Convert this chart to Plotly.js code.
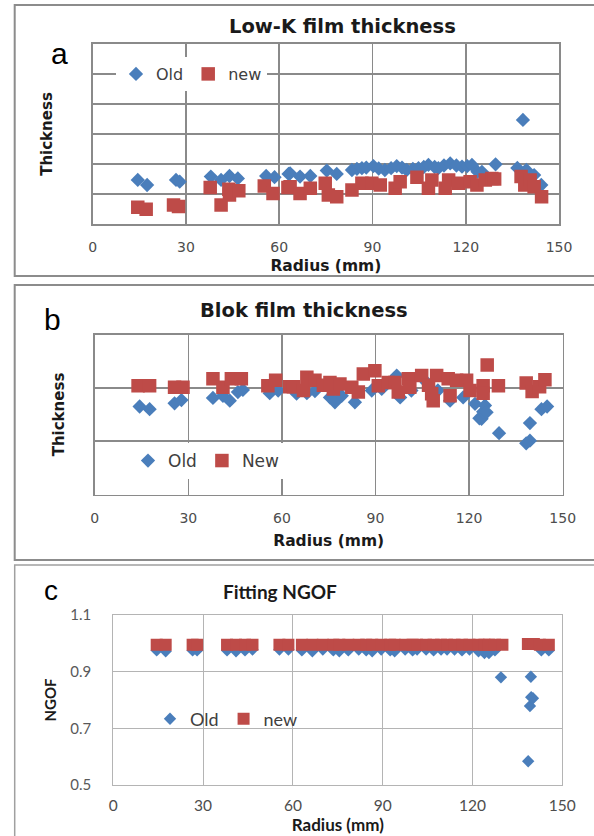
<!DOCTYPE html>
<html>
<head>
<meta charset="utf-8">
<script src="https://cdn.plot.ly/plotly-3.0.1.min.js"></script>
<style>html,body{margin:0;padding:0;background:#fff;}#chart{width:594px;height:836px;}</style>
</head>
<body>
<div id="chart"></div>
<script>
// ---------- Panel a: Low-K film thickness ----------
var aOldX = [14.5,17.5,26.8,28,38,41.3,44,46.7,55.8,58.5,63,63.5,66.7,70,75.3,78.5,83.4,85,86.6,88,90.3,92,94,96,97.8,99.5,101,103,104.8,106.5,108,110,111.2,113,115,117,118.8,120.5,122,123.8,125.2,129.6,136.6,138.4,139.5,142,144.3];
var aOldY = [1.47,1.3,1.47,1.41,1.58,1.47,1.6,1.52,1.6,1.56,1.67,1.69,1.58,1.6,1.78,1.67,1.8,1.84,1.86,1.88,1.93,1.85,1.8,1.86,1.93,1.88,1.8,1.84,1.86,1.9,1.97,1.9,1.86,1.95,2.02,1.95,1.91,1.93,1.97,1.74,1.74,1.99,1.87,3.47,1.8,1.63,1.3];
var aNewX = [14.5,17.2,26,27.6,37.8,41.3,43.8,44,47,55.2,58,62.8,63.5,66.7,70,74.8,75.8,78.5,83.4,86.6,89.8,92.5,97.3,98.9,104.3,108,109.1,113.4,114.5,117.7,121.4,123.6,126.3,128.4,129.3,137.8,139,140.7,142,144.4];
var aNewY = [0.56,0.49,0.63,0.58,1.22,0.63,1.16,0.97,1.11,1.27,1.02,1.22,1.24,1.02,1.19,1.36,0.97,0.91,1.13,1.36,1.36,1.3,1.19,1.41,1.56,1.19,1.47,1.19,1.47,1.36,1.41,1.3,1.47,1.52,1.5,1.58,1.3,1.47,1.24,0.91];

// ---------- Panel b: Blok film thickness ----------
var bOldX = [14.4,17.6,25.6,27.8,37.9,41.1,43.3,45.9,47.5,56.1,58.8,64.7,68,70.6,75.4,77,79.2,83.4,88.8,92,96.8,97.9,101.5,106.4,110,113.9,118.1,121.9,123.3,124,124.5,125.1,125.6,129.6,139.5,139.5,138.3,143.2,145];
var bOldY = [1.65,1.6,1.71,1.77,1.81,1.85,1.76,1.92,1.96,1.9,1.95,1.89,1.9,1.94,1.82,1.73,1.85,1.73,1.95,1.98,2.23,1.82,1.95,2.1,1.95,1.76,1.82,1.7,1.43,1.42,1.55,1.67,1.54,1.15,1.34,1.01,0.96,1.6,1.65];
var bNewX = [13.9,17.6,25.6,28.3,37.9,41.1,43.8,47,55.5,58,62.5,63.7,66.9,68,70.6,73.3,75.4,76.5,78.6,82.4,84.5,86.1,89.8,90.9,94.1,96.2,97.3,100.5,101,104.8,107,108,108.5,109.6,113.3,113.9,116,119.2,120.3,124.5,124.5,125.8,129.4,138.3,140.2,142.6,144.3];
var bNewY = [2.04,2.04,2.01,2.01,2.17,2.01,2.17,2.17,2.04,2.14,2.02,2.02,1.95,2.2,2.14,2.05,2.1,1.98,2.07,2.01,1.92,2.26,2.32,2.04,2.1,2.1,1.92,2.17,2.01,2.23,2.05,1.89,1.76,2.23,2.17,1.85,2.14,2.14,1.95,2.04,1.9,2.43,2.04,2.09,1.93,2.02,2.15];

// ---------- Panel c: Fitting NGOF ----------
var cOldX = [14.5,17.5,26.5,28,38,41,44,46.5,55.5,58.5,63,66.5,70,73.5,75.5,78.5,82,84.5,86.5,89.5,92.5,94,97.5,100,101.5,104.5,107,109.5,111.5,114,116.5,119,122,124,125.5,127.5,129.5,138.6,139.2,139.6,139.5,140.2,143,145.5];
var cOldY = [0.975,0.972,0.975,0.975,0.975,0.972,0.975,0.978,0.978,0.978,0.975,0.972,0.978,0.975,0.972,0.975,0.978,0.975,0.972,0.978,0.975,0.972,0.978,0.975,0.978,0.978,0.975,0.978,0.978,0.978,0.975,0.978,0.972,0.966,0.966,0.975,0.88,0.584,0.779,0.81,0.882,0.806,0.975,0.975];
var cNewX = [14.5,17.5,26.5,28,38,41,44,46.5,55.5,58.5,63,66.5,70,73.5,75.5,78.5,82,84.5,86.5,89.5,92.5,94,97.5,100,101.5,104.5,107,109.5,111.5,114,116.5,119,122,124,125.5,127.5,130,138.5,139.5,140.5,142.5,145.5];
var cNewY = [0.995,0.995,0.995,0.995,0.995,0.995,0.995,0.995,0.995,0.995,0.995,0.995,0.995,0.995,0.995,0.995,0.995,0.995,0.995,0.995,0.995,0.995,0.995,0.995,0.995,0.995,0.995,0.995,0.995,0.995,0.995,0.995,0.995,0.995,0.995,0.995,0.995,0.998,0.998,0.998,0.995,0.995];

var xTicks = [0,30,60,90,120,150];
var cYTicks = [0.5,0.7,0.9,1.1];

var W = 594, H = 836;
function px(x){return x/W;}
function py(y){return 1 - y/H;}

var BLUE = '#4a7ebb', RED = '#be4b48';
var fAB = 'DejaVu Sans', fC = 'Lato, Open Sans, sans-serif';

var traces = [
  {x:aOldX, y:aOldY, xaxis:'x', yaxis:'y', type:'scatter', mode:'markers', name:'Old', legend:'legend',
   marker:{symbol:'diamond', size:11, color:BLUE}},
  {x:aNewX, y:aNewY, xaxis:'x', yaxis:'y', type:'scatter', mode:'markers', name:'new', legend:'legend',
   marker:{symbol:'square', size:13.5, color:RED}},
  {x:bOldX, y:bOldY, xaxis:'x2', yaxis:'y2', type:'scatter', mode:'markers', name:'Old', legend:'legend2',
   marker:{symbol:'diamond', size:11, color:BLUE}},
  {x:bNewX, y:bNewY, xaxis:'x2', yaxis:'y2', type:'scatter', mode:'markers', name:'New', legend:'legend2',
   marker:{symbol:'square', size:13.5, color:RED}},
  {x:cOldX, y:cOldY, xaxis:'x3', yaxis:'y3', type:'scatter', mode:'markers', name:'Old', legend:'legend3',
   marker:{symbol:'diamond', size:9.5, color:BLUE}},
  {x:cNewX, y:cNewY, xaxis:'x3', yaxis:'y3', type:'scatter', mode:'markers', name:'new', legend:'legend3',
   marker:{symbol:'square', size:12, color:RED}}
];

var gridAB = '#8a8a8a', gridC = '#b4b4b4';
function xAx(dom, anchor, grid, gw, font, fsize, tfsize, standoffLbl, standoffTitle){
  return {domain:dom, anchor:anchor, range:[0,150], tickvals:xTicks, ticktext:xTicks.map(String),
    showgrid:true, gridcolor:grid, gridwidth:gw, zeroline:false, showline:true, linecolor:grid, linewidth:gw, mirror:true,
    ticks:'', ticklabelstandoff:standoffLbl, tickfont:{family:font, size:fsize, color:'#4d4d4d'},
    title:{text:'Radius (mm)', standoff:standoffTitle, font:{family:font, size:tfsize, color:'#1a1a1a', weight:'bold'}},
    automargin:false, fixedrange:true};
}

var layout = {
  width:W, height:H, margin:{l:0,r:0,t:0,b:0}, paper_bgcolor:'#fff', plot_bgcolor:'#fff',
  showlegend:true,
  xaxis: xAx([px(92.7),px(559)], 'y', gridAB, 1.6, fAB, 14, 15.5, 10, 6),
  yaxis: {domain:[py(224),py(44)], anchor:'x', range:[0,6], dtick:1, showticklabels:false,
    showgrid:true, gridcolor:gridAB, gridwidth:1.6, zeroline:false, showline:true, linecolor:gridAB, linewidth:1.6, mirror:true,
    title:{text:'Thickness', standoff:35, font:{family:fAB, size:15, color:'#1a1a1a', weight:'bold'}}, automargin:false},
  xaxis2: xAx([px(94.7),px(562.7)], 'y2', gridAB, 1.6, fAB, 14, 15.5, 10, 10),
  yaxis2: {domain:[py(494.5),py(334.5)], anchor:'x2', range:[0,3], dtick:1, showticklabels:false,
    showgrid:true, gridcolor:gridAB, gridwidth:1.6, zeroline:false, showline:true, linecolor:gridAB, linewidth:1.6, mirror:true,
    title:{text:'Thickness', standoff:25, font:{family:fAB, size:15, color:'#1a1a1a', weight:'bold'}}, automargin:false},
  xaxis3: xAx([px(113.3),px(562.3)], 'y3', gridC, 1, fC, 15.5, 17, 6, 3),
  yaxis3: {domain:[py(785),py(615)], anchor:'x3', range:[0.5,1.1], tickvals:cYTicks, ticktext:['0.5','0.7','0.9','1.1'],
    showgrid:true, gridcolor:gridC, gridwidth:1, zeroline:false, showline:true, linecolor:gridC, linewidth:1, mirror:true,
    ticks:'', ticklabelstandoff:18, tickfont:{family:fC, size:15, color:'#595959'},
    title:{text:'NGOF', standoff:10, font:{family:fC, size:15, color:'#1a1a1a', weight:'bold'}}, automargin:false},
  legend: {x:px(116), y:py(74), xanchor:'left', yanchor:'middle', orientation:'h', bgcolor:'#fff',
    font:{family:fAB, size:16, color:'#404040'}},
  legend2: {x:px(128), y:py(461), xanchor:'left', yanchor:'middle', orientation:'h', bgcolor:'#fff',
    font:{family:fAB, size:17, color:'#404040'}},
  legend3: {x:px(150), y:py(719), xanchor:'left', yanchor:'middle', orientation:'h', bgcolor:'rgba(255,255,255,0)',
    font:{family:fC, size:18, color:'#404040'}},
  shapes: [
    {type:'rect', xref:'paper', yref:'paper', x0:px(14.7), x1:px(610), y0:py(5), y1:py(276), line:{color:'#8c8c8c', width:2}, layer:'below'},
    {type:'rect', xref:'paper', yref:'paper', x0:px(14.7), x1:px(610), y0:py(285), y1:py(560), line:{color:'#8c8c8c', width:2}, layer:'below'},
    {type:'rect', xref:'paper', yref:'paper', x0:px(14.7), x1:px(610), y0:py(565), y1:py(850), line:{color:'#a0a0a0', width:1.5}, layer:'below'}
  ],
  annotations: [
    {text:'Low-K film thickness', xref:'paper', yref:'paper', x:px(342.5), y:py(26.7), xanchor:'center', yanchor:'middle', showarrow:false,
     font:{family:fAB, size:19.5, color:'#1a1a1a', weight:'bold'}},
    {text:'Blok film thickness', xref:'paper', yref:'paper', x:px(303.6), y:py(310.7), xanchor:'center', yanchor:'middle', showarrow:false,
     font:{family:fAB, size:19.5, color:'#1a1a1a', weight:'bold'}},
    {text:'Fitting NGOF', xref:'paper', yref:'paper', x:px(280), y:py(591.7), xanchor:'center', yanchor:'middle', showarrow:false,
     font:{family:fC, size:19, color:'#1a1a1a', weight:'bold'}},
    {text:'a', xref:'paper', yref:'paper', x:px(59), y:py(53.5), xanchor:'center', yanchor:'middle', showarrow:false,
     font:{family:'Liberation Sans', size:30, color:'#000'}},
    {text:'b', xref:'paper', yref:'paper', x:px(52.5), y:py(319.5), xanchor:'center', yanchor:'middle', showarrow:false,
     font:{family:'Liberation Sans', size:30, color:'#000'}},
    {text:'c', xref:'paper', yref:'paper', x:px(50.5), y:py(590), xanchor:'center', yanchor:'middle', showarrow:false,
     font:{family:'Liberation Sans', size:28, color:'#000'}}
  ]
};

Plotly.newPlot('chart', traces, layout, {staticPlot:true, displayModeBar:false});
</script>
</body>
</html>
